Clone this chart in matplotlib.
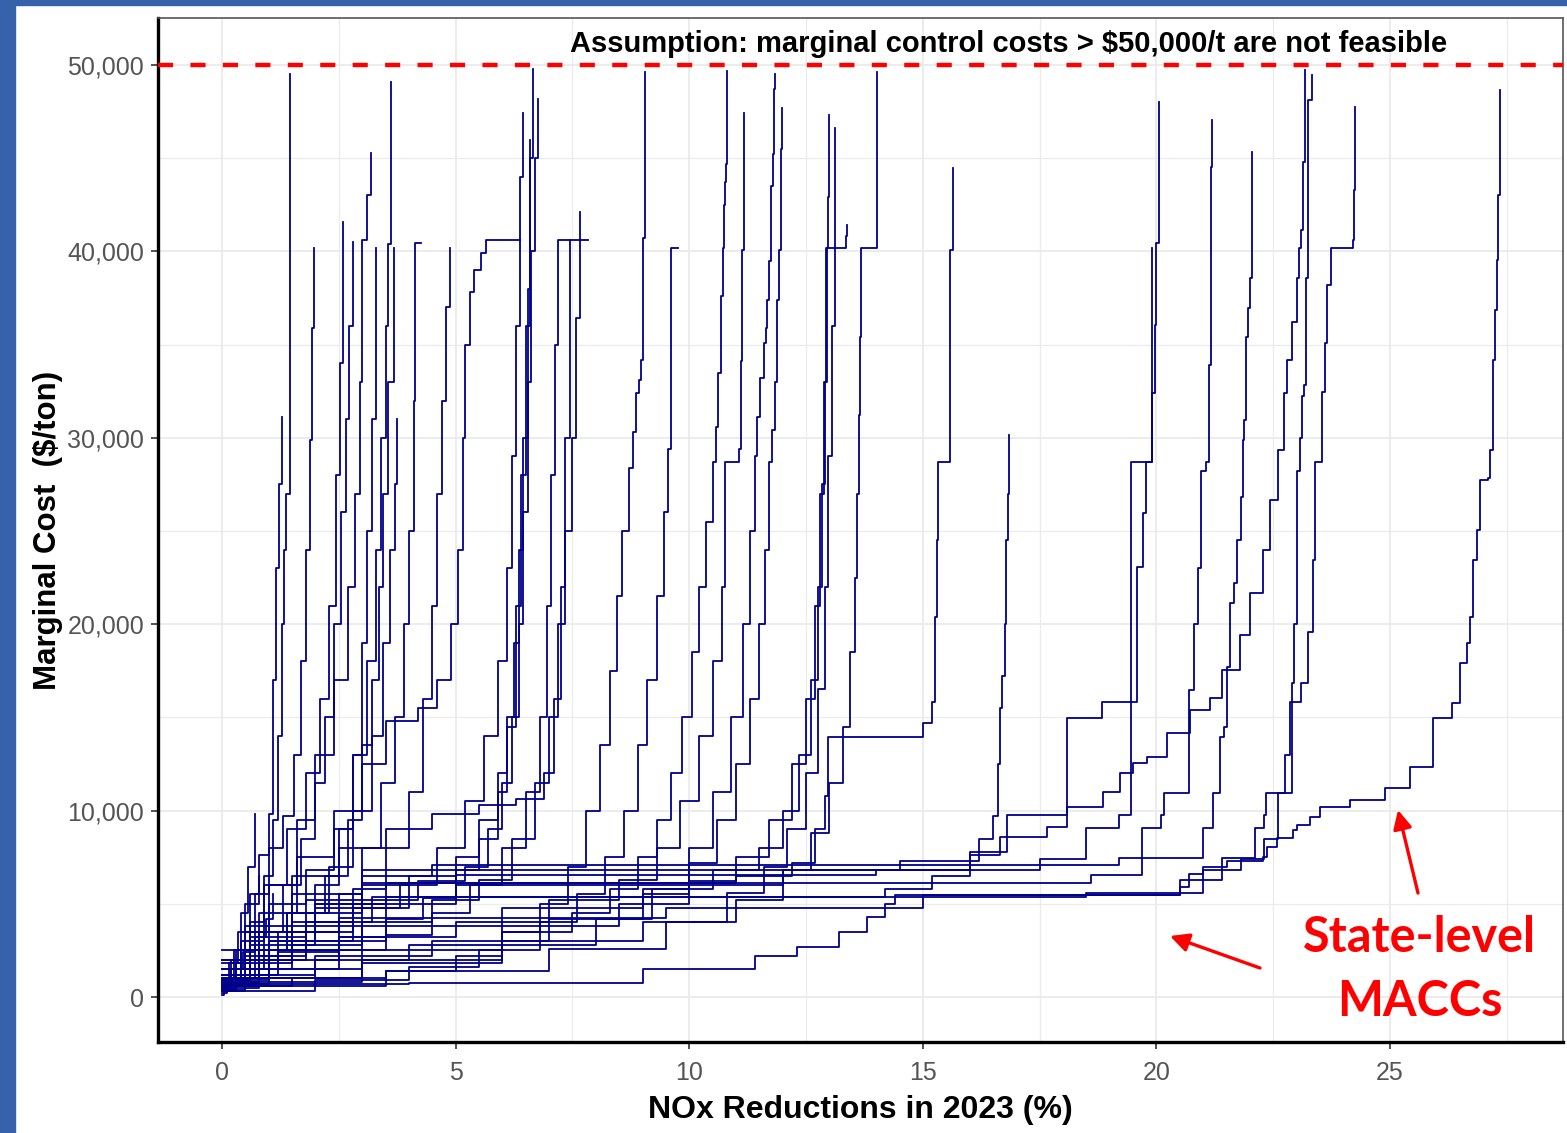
import matplotlib
matplotlib.use("Agg")
import matplotlib.pyplot as plt
from matplotlib.patches import Rectangle
from matplotlib.ticker import FuncFormatter, MultipleLocator

plt.rcParams['font.family'] = ['Liberation Sans', 'DejaVu Sans']

# state-level MACC curves: cumulative NOx reduction (%) vs marginal cost ($/ton)
s01_x = [0, 0.3, 0.6, 0.9, 1.1, 1.2, 1.28, 1.33, 1.37, 1.46]
s01_y = [500, 1800, 4000, 6500, 9500, 14000, 20000, 24000, 27000, 49500]
s02_x = [0, 0.2, 0.5, 0.8, 1.0, 1.1, 1.15, 1.22, 1.28]
s02_y = [300, 2000, 5000, 7600, 9800, 17000, 23000, 27500, 31100]
s03_x = [0, 0.3, 0.7, 1.0, 1.3, 1.55, 1.7, 1.8, 1.88, 1.93, 1.97]
s03_y = [1000, 2500, 5500, 8000, 9700, 13000, 18000, 24000, 29900, 35900, 40200]
s04_x = [0, 0.4, 0.9, 1.4, 1.8, 2.1, 2.3, 2.45, 2.52, 2.59]
s04_y = [800, 3000, 6000, 9000, 12000, 16000, 21000, 28000, 34000, 41600]
s05_x = [0, 0.5, 1.0, 1.6, 2.0, 2.4, 2.7, 2.85, 2.95, 3.0, 3.1, 3.19]
s05_y = [1500, 3500, 6000, 9500, 13000, 17000, 22000, 27000, 33000, 40600, 43000, 45300]
s06_x = [0, 0.4, 1.0, 1.8, 2.4, 2.8, 3.1, 3.3, 3.4, 3.5, 3.55, 3.62]
s06_y = [600, 2500, 5000, 6800, 9000, 13000, 18000, 24000, 30000, 36000, 40400, 49100]
s07_x = [0, 0.5, 1.2, 2.0, 2.5, 2.8, 3.0, 3.1, 3.2, 3.3]
s07_y = [300, 1500, 3500, 6000, 9000, 13000, 19000, 25000, 31000, 40200]
s08_x = [0, 0.6, 1.4, 2.2, 2.7, 3.0, 3.2, 3.35, 3.45, 3.55, 3.68]
s08_y = [1200, 2500, 4500, 6500, 9500, 13500, 17000, 22000, 27000, 33000, 40200]
s09_x = [0, 0.5, 1.5, 2.5, 3.0, 3.4, 3.7, 3.9, 4.0, 4.1, 4.12, 4.13, 4.26]
s09_y = [400, 2000, 3500, 5500, 8000, 11500, 15000, 20000, 25000, 32000, 38000, 40450, 40450]
s10_x = [0, 0.8, 1.8, 2.8, 3.5, 4.0, 4.3, 4.5, 4.6, 4.7, 4.8, 4.88]
s10_y = [700, 2200, 4000, 5800, 8000, 11000, 16000, 21000, 27000, 32000, 37000, 40200]
s11_x = [0, 0.8, 1.6, 2.4, 3.0, 3.5, 4.2, 4.6, 4.9, 5.05, 5.15, 5.2, 5.3, 5.4, 5.55, 5.65, 6.38]
s11_y = [2000, 4500, 7500, 10000, 12500, 14800, 15500, 17000, 20000, 24000, 30000, 35000, 37800, 39000, 39900, 40600, 40600]
s12_x = [0, 1.0, 2.0, 3.0, 4.0, 5.0, 5.5, 5.9, 6.1, 6.25, 6.35, 6.45, 6.55, 6.6, 6.65]
s12_y = [900, 3000, 5000, 6000, 6500, 7500, 9500, 12000, 15000, 19000, 24000, 30000, 38000, 45000, 49800]
s13_x = [0, 1.5, 3.0, 4.2, 5.2, 5.7, 6.0, 6.2, 6.35, 6.45, 6.55, 6.62, 6.7, 6.77]
s13_y = [1800, 3800, 5200, 6200, 7000, 9000, 11500, 15000, 20000, 26000, 33000, 40000, 45000, 48200]
s14_x = [0, 0.8, 1.8, 2.8, 3.8, 4.6, 5.2, 5.6, 5.9, 6.1, 6.2, 6.3, 6.38, 6.45]
s14_y = [500, 2000, 3500, 4800, 6000, 8000, 10500, 14000, 18000, 23000, 29000, 36000, 44000, 47400]
s15_x = [0, 1.2, 2.5, 3.5, 4.3, 5.0, 5.5, 5.9, 6.1, 6.3, 6.4, 6.5, 6.6]
s15_y = [1200, 2400, 3200, 4200, 5300, 6800, 8500, 11000, 14500, 21000, 28000, 36000, 46000]
s16_x = [0, 1.0, 2.5, 3.5, 4.5, 5.3, 6.0, 6.5, 6.8, 6.95, 7.05, 7.12, 7.19, 7.83]
s16_y = [700, 1500, 2500, 3300, 4500, 6000, 8000, 11000, 15000, 21000, 28000, 35000, 40600, 40600]
s17_x = [0, 1.5, 3.0, 4.5, 5.5, 6.2, 6.7, 7.0, 7.2, 7.35, 7.5, 7.58, 7.66]
s17_y = [1500, 2800, 4000, 5200, 6300, 8500, 11500, 15000, 20000, 25000, 30000, 36400, 42100]
s18_x = [0, 1.5, 3.5, 5.0, 6.0, 6.8, 7.4, 7.8, 8.1, 8.3, 8.45, 8.55, 8.7, 8.8, 8.87, 8.92, 8.97, 9.0, 9.02, 9.05]
s18_y = [600, 1000, 1400, 2200, 3500, 5000, 7000, 10000, 13500, 17500, 21500, 25000, 28400, 30300, 32400, 33100, 34200, 36800, 40700, 49600]
s19_x = [0, 2.0, 4.0, 5.5, 6.8, 7.6, 8.2, 8.6, 8.9, 9.1, 9.3, 9.45, 9.55, 9.6, 9.76]
s19_y = [300, 900, 1600, 2500, 4000, 5500, 7500, 10000, 13500, 17000, 21500, 26000, 29400, 40200, 40200]
s20_x = [0, 2.0, 4.0, 6.0, 7.5, 8.3, 8.9, 9.3, 9.6, 9.85, 10.05, 10.2, 10.35, 10.5, 10.58, 10.62, 10.67, 10.72, 10.75, 10.77, 10.79, 10.81]
s20_y = [1000, 2000, 2800, 3500, 4500, 5800, 7500, 9500, 12000, 15000, 18500, 22000, 25500, 28700, 30600, 33500, 37600, 40200, 42500, 43700, 44700, 49700]
s21_x = [0, 2.5, 5.0, 7.0, 8.5, 9.3, 9.8, 10.2, 10.5, 10.7, 10.77, 11.06, 11.1, 11.13, 11.17]
s21_y = [2000, 3200, 4000, 5200, 6300, 8000, 10500, 14000, 18000, 22000, 28700, 29400, 34100, 40100, 47400]
s22_x = [0, 3.0, 6.0, 8.0, 9.2, 10.0, 10.5, 10.9, 11.15, 11.3, 11.4, 11.45, 11.52, 11.6, 11.64, 11.67, 11.71, 11.75, 11.8, 11.82, 11.84]
s22_y = [800, 1800, 2800, 4200, 5800, 8000, 11000, 15000, 20000, 25000, 29000, 31100, 33200, 35100, 35900, 37400, 39500, 43500, 45200, 48700, 49500]
s23_x = [0, 2.0, 4.5, 7.0, 9.0, 10.0, 10.6, 11.0, 11.3, 11.5, 11.62, 11.7, 11.78, 11.83, 11.88, 11.93, 11.96, 11.98]
s23_y = [1200, 2200, 3000, 4200, 5500, 7200, 9500, 12500, 16000, 20000, 24000, 28700, 30400, 33000, 37400, 40100, 45500, 47700]
s24_x = [0, 3.0, 6.0, 8.5, 10.0, 11.0, 11.7, 12.2, 12.5, 12.7, 12.8, 12.88, 12.93, 12.98, 13.0]
s24_y = [1500, 2500, 3800, 5000, 6200, 7500, 9500, 12500, 16000, 21000, 27000, 33000, 40200, 42900, 47300]
s25_x = [0, 3.5, 7.0, 9.5, 10.8, 11.6, 12.1, 12.5, 12.75, 12.9, 12.98, 13.05, 13.12]
s25_y = [600, 1400, 2600, 4000, 5600, 7000, 9000, 12000, 16500, 22000, 29000, 36000, 46600]
s26_x = [0, 3.0, 6.0, 9.0, 10.5, 11.5, 12.0, 12.35, 12.6, 12.75, 12.85, 12.9, 12.95, 13.33, 13.35, 13.38]
s26_y = [2500, 3800, 4800, 5800, 6800, 8000, 10000, 13000, 17000, 22000, 27500, 33000, 40200, 40200, 40800, 41400]
s27_x = [0, 3.0, 6.0, 9.0, 11.0, 12.0, 12.6, 13.0, 13.3, 13.45, 13.55, 13.6, 13.63, 13.66, 13.68, 14.02]
s27_y = [1000, 2000, 3000, 4000, 5200, 6800, 8800, 11500, 14500, 18500, 22500, 27000, 31200, 35400, 40200, 49600]
s28_x = [0, 0.6, 2.0, 4.0, 11.0, 12.2, 12.7, 12.9, 12.97, 15.0, 15.2, 15.25, 15.3, 15.33, 15.58, 15.65]
s28_y = [800, 2800, 4800, 6100, 6500, 7200, 9000, 10800, 13950, 14700, 15800, 20400, 24500, 28700, 40100, 44500]
s29_x = [0, 0.5, 1.5, 3.0, 14.5, 16.2, 16.5, 16.6, 16.65, 16.7, 16.75, 16.78, 16.82, 16.85]
s29_y = [1500, 3800, 5500, 6800, 7300, 8500, 9700, 12500, 15500, 17200, 20000, 24500, 27000, 30150]
s30_x = [0, 0.5, 1.5, 3.2, 14.2, 15.2, 16.0, 16.65, 17.66, 18.09, 18.86, 19.22, 19.5, 19.8, 20.23, 20.72,
         21.15, 21.4, 21.79, 22.0, 22.28, 22.43, 22.6, 22.72, 22.8, 22.9, 23.0, 23.05, 23.1, 23.14, 23.18]
s30_y = [600, 2200, 4000, 5370, 5800, 6500, 7600, 8580, 9120, 10190, 11000, 12020, 12550, 12880, 14160, 15400,
         16040, 17540, 19420, 21670, 23980, 26660, 29350, 32400, 34170, 36210, 38570, 40180, 41150, 44800, 49730]
s31_x = [0, 0.3, 0.9, 2.0, 3.5, 18.6, 19.7, 20.1, 20.15, 20.7, 20.8, 20.88, 20.95, 21.05, 21.12, 21.16, 21.19]
s31_y = [400, 1500, 3500, 5000, 6100, 6550, 9070, 9760, 10940, 16470, 20000, 23000, 28200, 28700, 33900, 44530, 47050]
s32_x = [0, 0.6, 1.8, 3.0, 4.5, 19.2, 21.0, 21.2, 21.35, 21.45, 21.5, 21.58, 21.65, 21.72, 21.8, 21.85,
         21.88, 21.92, 21.96, 22.0, 22.04]
s32_y = [1200, 3200, 5200, 6500, 7080, 7460, 9070, 10940, 13950, 14480, 17700, 21140, 22210, 24500, 26800, 29880,
         30960, 35400, 36960, 38570, 45330]
s33_x = [0, 0.8, 2.5, 9.5, 15.0, 20.5, 21.4, 22.1, 22.3, 22.35, 22.9, 22.95, 23.0, 23.08, 23.12, 23.15, 23.2, 23.25, 23.33]
s33_y = [800, 2500, 4240, 4800, 5470, 6280, 7460, 9070, 9760, 10940, 16850, 20000, 28200, 30000, 32240, 32830, 38570, 48120, 49470]
s34_x = [0, 0.2, 1.0, 3.5, 18.5, 21.0, 21.8, 22.3, 22.6, 22.75, 22.85, 23.1, 23.25, 23.35, 23.4, 23.55,
         23.6, 23.65, 23.73, 24.2, 24.22, 24.25]
s34_y = [500, 1500, 3000, 5370, 5600, 6800, 7400, 8500, 10940, 13000, 15830, 16850, 19580, 23440, 28700, 32460,
         35090, 38200, 40180, 40610, 43300, 47750]
s35_x = [0, 4.0, 9.0, 11.4, 12.3, 13.2, 13.8, 14.2, 14.4, 20.5, 20.7, 21.0, 21.5, 22.28, 22.37, 22.58, 22.92,
         23.01, 23.29, 23.5, 24.14, 24.9, 25.43, 25.92, 26.33, 26.5, 26.65, 26.71, 26.78, 26.86, 26.93, 27.1,
         27.14, 27.2, 27.25, 27.29, 27.31, 27.35]
s35_y = [700, 750, 1500, 2200, 2700, 3500, 4300, 5000, 5470, 5900, 6600, 7000, 7300, 7510, 8050, 8530, 8960,
         9230, 9660, 10190, 10570, 11210, 12340, 14970, 15770, 17920, 19000, 20390, 23440, 25050, 27740, 27850,
         29350, 34170, 36860, 39540, 43030, 48660]
s36_x = [0, 0.4, 1.4, 3.0, 5.0, 14.0, 17.5, 18.5, 19.2, 19.46, 19.9, 19.96, 20.0, 20.06]
s36_y = [900, 2500, 4500, 6100, 6550, 6800, 7400, 9070, 9760, 28700, 32400, 36050, 40450, 48020]
s37_x = [0, 0.3, 1.0, 2.8, 5.0, 12.0, 16.0, 16.8, 18.09, 18.84, 19.59, 19.72, 19.78, 19.9]
s37_y = [300, 1200, 3000, 5000, 6000, 6800, 7800, 9760, 14970, 15830, 23070, 25970, 28700, 40180]
s38_x = [0, 0.3, 0.8, 1.3, 1.7, 2.0, 2.2, 2.4, 2.55, 2.65, 2.72, 2.8]
s38_y = [300, 1500, 3500, 6000, 8500, 11500, 15000, 20000, 26000, 31000, 36000, 40500]
s39_x = [0, 0.7, 1.5, 2.3, 2.8, 3.2, 3.45, 3.6, 3.7, 3.75]
s39_y = [1000, 2500, 4500, 7000, 10000, 14000, 19000, 24000, 27500, 31000]
s40_x = [0, 0.1, 0.25, 0.4, 0.55, 0.7]
s40_y = [200, 1000, 2500, 4500, 7000, 9800]
s41_x = [0, 0.15, 0.35, 0.6, 0.8]
s41_y = [500, 1800, 3500, 5500, 6500]
s42_x = [0, 0.05, 0.2, 0.45, 0.7, 0.95, 1.1]
s42_y = [100, 800, 1500, 2400, 3200, 4200, 5500]
s43_x = [0, 0.6, 1.5, 2.5, 3.5, 4.5, 5.5, 6.3, 6.9, 7.1, 7.25, 7.35, 7.45]
s43_y = [900, 3500, 6500, 8000, 9000, 9800, 10300, 10600, 12000, 16000, 22000, 30000, 40600]

curves = [(s01_x, s01_y), (s02_x, s02_y), (s03_x, s03_y), (s04_x, s04_y), (s05_x, s05_y),
          (s06_x, s06_y), (s07_x, s07_y), (s08_x, s08_y), (s09_x, s09_y), (s10_x, s10_y),
          (s11_x, s11_y), (s12_x, s12_y), (s13_x, s13_y), (s14_x, s14_y), (s15_x, s15_y),
          (s16_x, s16_y), (s17_x, s17_y), (s18_x, s18_y), (s19_x, s19_y), (s20_x, s20_y),
          (s21_x, s21_y), (s22_x, s22_y), (s23_x, s23_y), (s24_x, s24_y), (s25_x, s25_y),
          (s26_x, s26_y), (s27_x, s27_y), (s28_x, s28_y), (s29_x, s29_y), (s30_x, s30_y),
          (s31_x, s31_y), (s32_x, s32_y), (s33_x, s33_y), (s34_x, s34_y), (s35_x, s35_y),
          (s36_x, s36_y), (s37_x, s37_y), (s38_x, s38_y), (s39_x, s39_y), (s40_x, s40_y),
          (s41_x, s41_y), (s42_x, s42_y), (s43_x, s43_y)]

cap = 50000
W, H = 1567, 1133

fig = plt.figure(figsize=(W / 100, H / 100), dpi=100)
fig.patch.set_facecolor('white')
# slide background strips
fig.add_artist(Rectangle((0, 0), 15 / W, 1, transform=fig.transFigure, color='#3562AA', zorder=0))
fig.add_artist(Rectangle((0, 1 - 5 / H), 1, 5 / H, transform=fig.transFigure, color='#3562AA', zorder=0))

ax = fig.add_axes([158 / W, 1 - 1042 / H, (1563 - 158) / W, (1042 - 18) / H])
for xs, ys in curves:
    ax.step(xs, ys, where='post', color='#00008B', lw=1.3, zorder=3)

ax.axhline(cap, color='red', lw=3.2, dashes=(3.4, 3.9), zorder=4)

ax.set_xlim(-1.37, 28.7)
ax.set_ylim(-2414, 52521)
ax.xaxis.set_major_locator(MultipleLocator(5))
ax.xaxis.set_minor_locator(MultipleLocator(2.5))
ax.yaxis.set_major_locator(MultipleLocator(10000))
ax.yaxis.set_minor_locator(MultipleLocator(5000))
ax.yaxis.set_major_formatter(FuncFormatter(lambda v, p: '{:,.0f}'.format(v)))
ax.grid(which='major', color='#EBEBEB', lw=1.3, zorder=0)
ax.grid(which='minor', color='#EBEBEB', lw=0.9, zorder=0)
ax.set_axisbelow(True)
ax.tick_params(which='minor', length=0)
ax.tick_params(which='major', length=5, width=1.2, color='#333333',
               labelcolor='#555555', labelsize=18, pad=5)
ax.tick_params(axis='x', pad=9)

for side in ['left', 'bottom']:
    ax.spines[side].set_linewidth(2.4)
    ax.spines[side].set_color('black')
for side in ['top', 'right']:
    ax.spines[side].set_linewidth(1.2)
    ax.spines[side].set_color('#555555')

ax.set_xlabel('NOx Reductions in 2023 (%)', fontsize=23, fontweight='bold', labelpad=7)
ax.set_ylabel('Marginal Cost  ($/ton)', fontsize=22.5, fontweight='bold', labelpad=3)

fig.text(1009 / W, 1 - 44 / H, 'Assumption: marginal control costs > $50,000/t are not feasible',
         ha='center', va='center', fontsize=21, fontweight='bold')

fig.text(1419 / W, 1 - 938 / H, 'State-level', ha='center', va='center', color='red',
         fontsize=35, fontweight='bold', family='Lato')
fig.text(1420 / W, 1 - 1002 / H, 'MACCs', ha='center', va='center', color='red',
         fontsize=35, fontweight='bold', family='Lato')

arrow = dict(arrowstyle='-|>', color='red', lw=2.4, mutation_scale=28, shrinkA=0, shrinkB=0)
ax.annotate('', xy=(1398, H - 810), xytext=(1418, H - 893), xycoords='figure pixels',
            textcoords='figure pixels', arrowprops=arrow)
ax.annotate('', xy=(1170, H - 936), xytext=(1260, H - 968), xycoords='figure pixels',
            textcoords='figure pixels', arrowprops=arrow)

fig.savefig('out.png', dpi=100)
